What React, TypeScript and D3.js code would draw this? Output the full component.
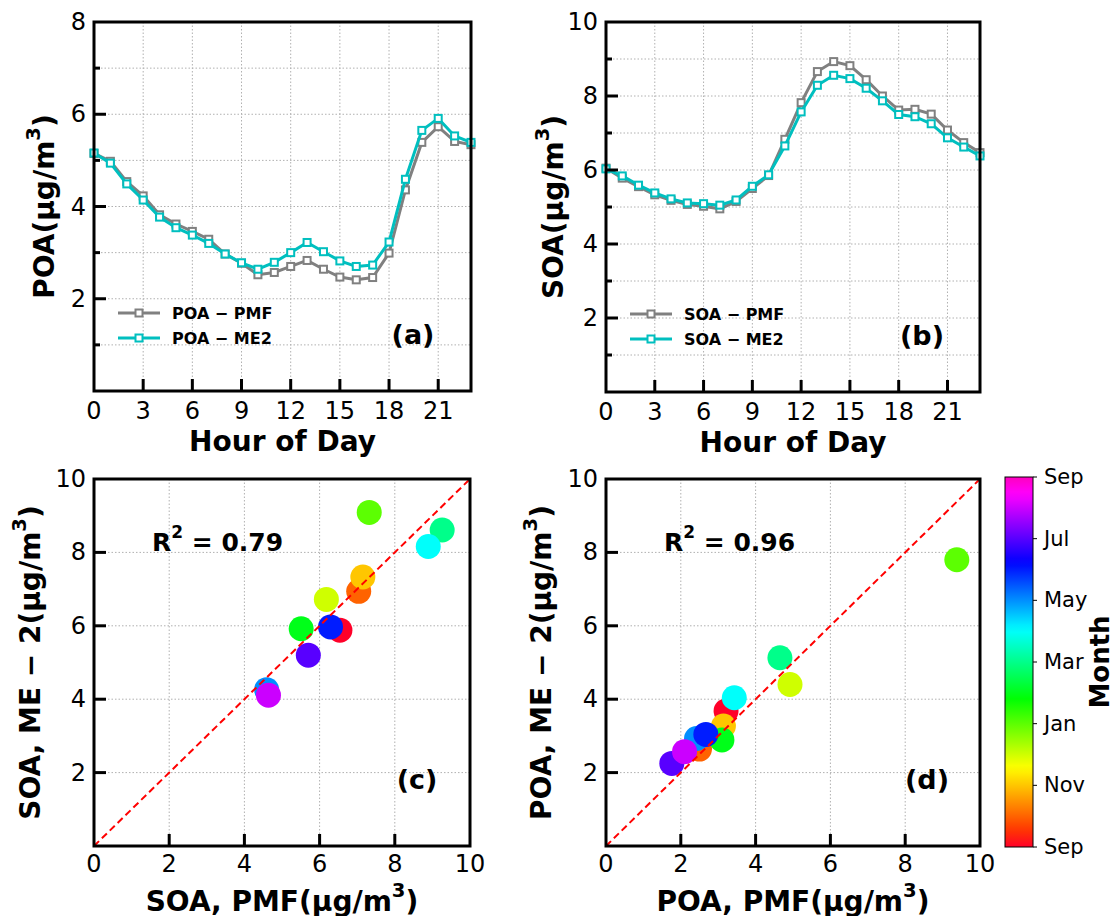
import React from "react";
import * as d3 from "d3";

const FONT = "DejaVu Sans, sans-serif";

// diurnal cycles, hour of day 0..23
const hours = [0, 1, 2, 3, 4, 5, 6, 7, 8, 9, 10, 11, 12, 13, 14, 15, 16, 17, 18, 19, 20, 21, 22, 23];
const hourTicks = [0, 3, 6, 9, 12, 15, 18, 21];
const poaPmf = [5.15, 4.98, 4.54, 4.23, 3.82, 3.62, 3.46, 3.29, 2.97, 2.77, 2.52, 2.57, 2.7, 2.83, 2.64, 2.47, 2.41, 2.46, 2.99, 4.36, 5.39, 5.73, 5.41, 5.34];
const poaMe2 = [5.16, 4.94, 4.49, 4.14, 3.77, 3.54, 3.38, 3.2, 2.97, 2.78, 2.64, 2.79, 3.0, 3.22, 3.02, 2.82, 2.7, 2.73, 3.23, 4.59, 5.65, 5.91, 5.53, 5.39];
const soaPmf = [6.05, 5.78, 5.55, 5.33, 5.18, 5.07, 5.02, 4.95, 5.15, 5.5, 5.85, 6.83, 7.82, 8.66, 8.93, 8.82, 8.44, 8.0, 7.62, 7.64, 7.51, 7.08, 6.74, 6.47];
const soaMe2 = [6.03, 5.84, 5.59, 5.38, 5.22, 5.11, 5.09, 5.05, 5.19, 5.56, 5.87, 6.65, 7.57, 8.29, 8.56, 8.47, 8.21, 7.87, 7.5, 7.44, 7.25, 6.87, 6.62, 6.38];

// monthly means, Sep -> Aug
const months = ["Sep", "Oct", "Nov", "Dec", "Jan", "Feb", "Mar", "Apr", "May", "Jun", "Jul", "Aug"];
const soaPmfMonthly = [6.54, 7.04, 7.15, 6.18, 7.32, 5.51, 9.26, 8.89, 4.59, 6.29, 5.7, 4.64];
const soaMe2Monthly = [5.88, 6.94, 7.33, 6.72, 9.09, 5.92, 8.61, 8.16, 4.26, 5.97, 5.2, 4.11];
const poaPmfMonthly = [3.21, 2.5, 3.14, 4.92, 9.38, 3.1, 4.65, 3.43, 2.42, 2.67, 1.76, 2.1];
const poaMe2Monthly = [3.68, 2.64, 3.27, 4.4, 7.8, 2.89, 5.13, 4.04, 2.93, 3.04, 2.25, 2.57];
const cbarLabels = ["Sep", "Nov", "Jan", "Mar", "May", "Jul", "Sep"];

const scatterTicks = [0, 2, 4, 6, 8, 10];

// gist_rainbow-like colormap
const cR = d3.scaleLinear<number>().domain([0, 0.215, 0.4, 0.77, 0.954, 1]).range([1, 1, 0, 0, 1, 1]);
const cG = d3.scaleLinear<number>().domain([0, 0.215, 0.586, 0.77, 1]).range([0, 1, 1, 0, 0]);
const cB = d3.scaleLinear<number>().domain([0, 0.047, 0.215, 0.4, 0.586, 0.954, 1]).range([0.16, 0, 0, 0.01, 1, 1, 0.75]);
const cmap = (t: number) => d3.rgb(cR(t) * 255, cG(t) * 255, cB(t) * 255).formatHex();

const GRID = "#b0b0b0";
const PMF_COLOR = "#808080";
const ME2_COLOR = "#00bfbf";

type Box = { l: number; r: number; t: number; b: number };

function UnitLabel({ text, x, y, rotate, size = 28 }: { text: string; x: number; y: number; rotate?: boolean; size?: number }) {
  return (
    <text
      x={x}
      y={y}
      transform={rotate ? `rotate(-90 ${x} ${y})` : undefined}
      textAnchor="middle"
      dominantBaseline="central"
      fontFamily={FONT}
      fontWeight="bold"
      fontSize={size}
    >
      {text}(μg/m<tspan dy={-11} fontSize={size * 0.7}>3</tspan>
      <tspan dy={11}>)</tspan>
    </text>
  );
}

function LinePanel({ box, yMax, pmf, me2, name, yLabelX, tag }: { box: Box; yMax: number; pmf: number[]; me2: number[]; name: string; yLabelX: number; tag: string }) {
  const x = d3.scaleLinear().domain([0, 23]).range([box.l, box.r]);
  const y = d3.scaleLinear().domain([0, yMax]).range([box.b, box.t]);
  const line = d3
    .line<number>()
    .x((_, i) => x(hours[i]))
    .y((d) => y(d));
  const yAll = d3.range(1, yMax);
  const yMajor = yAll.filter((v) => v % 2 === 0).concat([yMax]);
  const series = [
    { label: `${name} − PMF`, values: pmf, color: PMF_COLOR },
    { label: `${name} − ME2`, values: me2, color: ME2_COLOR },
  ];
  return (
    <g>
      {hourTicks.slice(1).map((t) => (
        <line key={"gx" + t} x1={x(t)} x2={x(t)} y1={box.t} y2={box.b} stroke={GRID} strokeDasharray="1.5,2" />
      ))}
      {yAll.map((v) => (
        <line key={"gy" + v} x1={box.l} x2={box.r} y1={y(v)} y2={y(v)} stroke={GRID} strokeDasharray="1.5,2" />
      ))}
      {series.map((s) => (
        <g key={s.label}>
          <path d={line(s.values) || ""} fill="none" stroke={s.color} strokeWidth={3} />
          {s.values.map((v, i) => (
            <rect key={i} x={x(hours[i]) - 3.5} y={y(v) - 3.5} width={7} height={7} fill="white" stroke={s.color} strokeWidth={2} />
          ))}
        </g>
      ))}
      {/* ticks */}
      {yAll.map((v) => (
        <line key={"ty" + v} x1={box.l} x2={box.l + (v % 2 === 0 ? 12 : 6)} y1={y(v)} y2={y(v)} stroke="black" strokeWidth={3} />
      ))}
      {hourTicks.slice(1).map((t) => (
        <line key={"tx" + t} x1={x(t)} x2={x(t)} y1={box.b} y2={box.b - 12} stroke="black" strokeWidth={3} />
      ))}
      <rect x={box.l} y={box.t} width={box.r - box.l} height={box.b - box.t} fill="none" stroke="black" strokeWidth={3} />
      {yMajor.map((v) => (
        <text key={"ly" + v} x={box.l - 8} y={y(v)} textAnchor="end" dominantBaseline="central" fontFamily={FONT} fontSize={24}>
          {v}
        </text>
      ))}
      {hourTicks.map((t) => (
        <text key={"lx" + t} x={x(t)} y={box.b + 20} textAnchor="middle" dominantBaseline="central" fontFamily={FONT} fontSize={24}>
          {t}
        </text>
      ))}
      <text x={(box.l + box.r) / 2} y={box.b + 50} textAnchor="middle" dominantBaseline="central" fontFamily={FONT} fontWeight="bold" fontSize={28}>
        Hour of Day
      </text>
      <UnitLabel text={name} x={yLabelX} y={(box.t + box.b) / 2} rotate />
      {/* legend */}
      {series.map((s, i) => {
        const ly = box.b - 78 + i * 25;
        return (
          <g key={"lg" + i}>
            <line x1={box.l + 24} x2={box.l + 66} y1={ly} y2={ly} stroke={s.color} strokeWidth={3} />
            <rect x={box.l + 41.5} y={ly - 3.5} width={7} height={7} fill="white" stroke={s.color} strokeWidth={2} />
            <text x={box.l + 78} y={ly} dominantBaseline="central" fontFamily={FONT} fontWeight="bold" fontSize={16}>
              {s.label}
            </text>
          </g>
        );
      })}
      <text x={box.r - 58} y={box.b - 57} textAnchor="middle" dominantBaseline="central" fontFamily={FONT} fontWeight="bold" fontSize={27}>
        {tag}
      </text>
    </g>
  );
}

function ScatterPanel({ box, xs, ys, name, r2, yLabelX, tag }: { box: Box; xs: number[]; ys: number[]; name: string; r2: string; yLabelX: number; tag: string }) {
  const x = d3.scaleLinear().domain([0, 10]).range([box.l, box.r]);
  const y = d3.scaleLinear().domain([0, 10]).range([box.b, box.t]);
  const inner = scatterTicks.slice(1, -1);
  return (
    <g>
      {inner.map((t) => (
        <g key={"g" + t}>
          <line x1={x(t)} x2={x(t)} y1={box.t} y2={box.b} stroke={GRID} strokeDasharray="1.5,2" />
          <line x1={box.l} x2={box.r} y1={y(t)} y2={y(t)} stroke={GRID} strokeDasharray="1.5,2" />
        </g>
      ))}
      {months.map((m, i) => (
        <circle key={m} cx={x(xs[i])} cy={y(ys[i])} r={12.5} fill={cmap(i / 12)} />
      ))}
      <line x1={x(0)} y1={y(0)} x2={x(10)} y2={y(10)} stroke="red" strokeWidth={2} strokeDasharray="7,4" />
      {inner.map((t) => (
        <g key={"t" + t}>
          <line x1={x(t)} x2={x(t)} y1={box.b} y2={box.b - 12} stroke="black" strokeWidth={3} />
          <line x1={box.l} x2={box.l + 12} y1={y(t)} y2={y(t)} stroke="black" strokeWidth={3} />
        </g>
      ))}
      <rect x={box.l} y={box.t} width={box.r - box.l} height={box.b - box.t} fill="none" stroke="black" strokeWidth={3} />
      {scatterTicks.slice(1).map((t) => (
        <text key={"ly" + t} x={box.l - 8} y={y(t)} textAnchor="end" dominantBaseline="central" fontFamily={FONT} fontSize={24}>
          {t}
        </text>
      ))}
      {scatterTicks.map((t) => (
        <text key={"lx" + t} x={x(t)} y={box.b + 18} textAnchor="middle" dominantBaseline="central" fontFamily={FONT} fontSize={24}>
          {t}
        </text>
      ))}
      <UnitLabel text={`${name}, PMF`} x={(box.l + box.r) / 2} y={box.b + 55} />
      <UnitLabel text={`${name}, ME − 2`} x={yLabelX} y={(box.t + box.b) / 2} rotate />
      <text x={box.l + 58} y={box.t + 63} dominantBaseline="central" fontFamily={FONT} fontWeight="bold" fontSize={25}>
        R<tspan dy={-10} fontSize={17}>2</tspan>
        <tspan dy={10}> = {r2}</tspan>
      </text>
      <text x={box.r - 53} y={box.b - 67} textAnchor="middle" dominantBaseline="central" fontFamily={FONT} fontWeight="bold" fontSize={27}>
        {tag}
      </text>
    </g>
  );
}

function ColorBar({ box }: { box: Box }) {
  const y = d3.scaleLinear().domain([0, cbarLabels.length - 1]).range([box.b, box.t]);
  const stops = d3.range(0, 1.0001, 0.02);
  const lx = 1100;
  const ly = (box.t + box.b) / 2;
  return (
    <g>
      <defs>
        <linearGradient id="cbar" x1="0" y1="1" x2="0" y2="0">
          {stops.map((s) => (
            <stop key={s} offset={s} stopColor={cmap(s)} />
          ))}
        </linearGradient>
      </defs>
      <rect x={box.l} y={box.t} width={box.r - box.l} height={box.b - box.t} fill="url(#cbar)" stroke="black" strokeWidth={1} />
      {cbarLabels.map((m, i) => (
        <g key={i}>
          <line x1={box.r} x2={box.r + 4} y1={y(i)} y2={y(i)} stroke="black" strokeWidth={1} />
          <text x={box.r + 11} y={y(i)} dominantBaseline="central" fontFamily={FONT} fontSize={21}>
            {m}
          </text>
        </g>
      ))}
      <text
        x={lx}
        y={ly}
        transform={`rotate(-90 ${lx} ${ly})`}
        textAnchor="middle"
        dominantBaseline="central"
        fontFamily={FONT}
        fontWeight="bold"
        fontSize={26}
      >
        Month
      </text>
    </g>
  );
}

export default function App() {
  return (
    <svg width={1116} height={916} style={{ position: "absolute", left: 0, top: 0, background: "white" }}>
      <rect width={1116} height={916} fill="white" />
      <LinePanel box={{ l: 94, r: 471, t: 22, b: 391 }} yMax={8} pmf={poaPmf} me2={poaMe2} name="POA" yLabelX={44} tag="(a)" />
      <LinePanel box={{ l: 606, r: 980, t: 22, b: 392 }} yMax={10} pmf={soaPmf} me2={soaMe2} name="SOA" yLabelX={553} tag="(b)" />
      <ScatterPanel box={{ l: 94, r: 470, t: 479, b: 846 }} xs={soaPmfMonthly} ys={soaMe2Monthly} name="SOA" r2="0.79" yLabelX={30} tag="(c)" />
      <ScatterPanel box={{ l: 606, r: 980, t: 479, b: 846 }} xs={poaPmfMonthly} ys={poaMe2Monthly} name="POA" r2="0.96" yLabelX={541} tag="(d)" />
      <ColorBar box={{ l: 1005, r: 1033, t: 477, b: 847 }} />
    </svg>
  );
}
